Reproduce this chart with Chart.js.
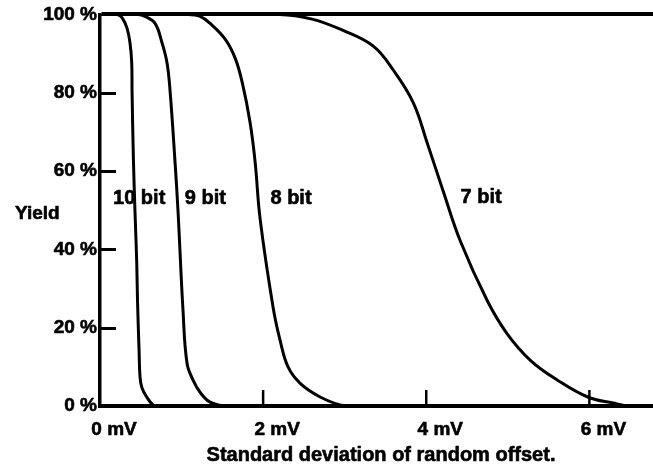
<!DOCTYPE html>
<html>
<head>
<meta charset="utf-8">
<script src="https://cdn.jsdelivr.net/npm/chart.js@4/dist/chart.umd.min.js"></script>
<style>
  html, body { margin: 0; padding: 0; background: #fff; }
  #wrap { width: 653px; height: 468px; position: relative; }
</style>
</head>
<body>
<div id="wrap"><canvas id="c"></canvas></div>
<script>
// ---- data (x: standard deviation of random offset in mV, y: yield in %) ----
const bit10X = [0, 0.209, 0.27, 0.331, 0.368, 0.389, 0.393, 0.409, 0.429, 0.45, 0.46, 0.479, 0.491, 0.515, 0.573, 0.65, 0.71, 6.8];
const bit10Y = [100, 100, 99.2, 96.5, 92.7, 87.6, 80.5, 63.5, 49.6, 37, 26.8, 14.2, 7.3, 4.6, 2.3, 0.25, 0, 0];

const bit9X = [0, 0.466, 0.552, 0.675, 0.761, 0.822, 0.859, 0.92, 0.957, 1.018, 1.067, 1.141, 1.227, 1.35, 1.56, 6.8];
const bit9Y = [100, 100, 99.5, 97.7, 92.7, 87.6, 80.5, 62.3, 49.6, 24.3, 10.9, 6.6, 3.5, 1.0, 0, 0];

const bit8X = [0, 1.08, 1.227, 1.35, 1.534, 1.656, 1.745, 1.84, 1.902, 1.963, 2.123, 2.209, 2.307, 2.454, 2.699, 2.945, 3.07, 6.8];
const bit8Y = [100, 100, 99.5, 97.7, 93.7, 88.9, 82.5, 72.4, 62.3, 47.8, 25.1, 16.7, 9.9, 5.8, 2.3, 0.25, 0, 0];

const bit7X = [0, 2.2, 2.6, 2.98, 3.35, 3.595, 3.84, 4.01, 4.21, 4.42, 4.75, 4.99, 5.28, 5.61, 5.98, 6.29, 6.5, 6.8];
const bit7Y = [100, 100, 98.8, 95.9, 91.9, 85.8, 77.5, 67.3, 54.7, 42, 26.8, 18.5, 11.6, 6.6, 2.3, 0.76, 0, 0];

const seriesNames = ['10 bit', '9 bit', '8 bit', '7 bit'];
const xTickValues = [0, 2, 4, 6];
const yTickValues = [0, 20, 40, 60, 80, 100];
const xUnit = ' mV';
const yUnit = ' %';
const xTitle = 'Standard deviation of random offset.';
const yTitle = 'Yield';

// annotation anchors for series names (in data units: mV, %)
const seriesLabelX = [0.16, 1.04, 2.09, 4.42];
const seriesLabelY = [52.9, 52.9, 52.9, 53.2];

const toPoints = (xs, ys) => xs.map((x, i) => ({ x: x, y: ys[i] }));
const allX = [bit10X, bit9X, bit8X, bit7X];
const allY = [bit10Y, bit9Y, bit8Y, bit7Y];

const FONT = '"Liberation Sans", Arial, Helvetica, sans-serif';
Chart.defaults.font.family = FONT;
Chart.defaults.font.size = 19;
Chart.defaults.font.weight = 'bold';
Chart.defaults.color = '#000';

const decor = {
  id: 'decor',
  afterDatasetsDraw(chart) {
    const { ctx, chartArea: a, scales: { x, y } } = chart;
    ctx.save();
    ctx.strokeStyle = '#000';
    // inner y tick marks
    ctx.lineWidth = 3;
    yTickValues.filter(v => v > 0 && v < 100).forEach(v => {
      const py = Math.round(y.getPixelForValue(v)) + 0.5;
      ctx.beginPath(); ctx.moveTo(a.left, py); ctx.lineTo(a.left + 16, py); ctx.stroke();
    });
    // inner x tick marks
    ctx.lineWidth = 2.5;
    xTickValues.filter(v => v > 0).forEach(v => {
      const px = x.getPixelForValue(v);
      ctx.beginPath(); ctx.moveTo(px, a.bottom); ctx.lineTo(px, a.bottom - 16); ctx.stroke();
    });
    // texts
    ctx.fillStyle = '#000';
    ctx.lineWidth = 0.6;
    ctx.lineJoin = 'round';
    const txt = (s, px, py) => { ctx.fillText(s, px, py); ctx.strokeText(s, px, py); };
    ctx.font = 'bold 20px ' + FONT;
    ctx.textAlign = 'left';
    ctx.textBaseline = 'middle';
    seriesNames.forEach((n, i) => {
      txt(n, x.getPixelForValue(seriesLabelX[i]), y.getPixelForValue(seriesLabelY[i]));
    });
    ctx.font = 'bold 19px ' + FONT;
    txt(yTitle, a.left - 85, y.getPixelForValue(49));
    ctx.font = 'bold 20px ' + FONT;
    ctx.textAlign = 'center';
    txt(xTitle, a.left + 281, a.bottom + 49);
    ctx.restore();
  }
};

new Chart(document.getElementById('c'), {
  type: 'line',
  data: {
    datasets: seriesNames.map((n, i) => ({
      label: n,
      data: toPoints(allX[i], allY[i]),
      borderColor: '#000',
      borderWidth: 3,
      pointRadius: 0,
      fill: false,
      tension: 0.4
    }))
  },
  options: {
    responsive: true,
    maintainAspectRatio: false,
    animation: false,
    devicePixelRatio: 1,
    layout: { padding: { top: 11, right: 0, left: 0, bottom: 0 } },
    plugins: { legend: { display: false }, tooltip: { enabled: false } },
    scales: {
      x: {
        type: 'linear',
        min: 0,
        max: 6.78,
        afterFit: s => { s.height = 62; },
        grid: { display: true, color: 'transparent', drawTicks: false },
        border: { display: true, color: '#000', width: 4 },
        ticks: {
          stepSize: 2,
          includeBounds: false,
          padding: 12,
          labelOffset: 14,
          maxRotation: 0,
          textStrokeColor: '#000',
          textStrokeWidth: 0.6,
          callback: v => v + xUnit
        }
      },
      y: {
        min: 0,
        max: 100,
        afterFit: s => { s.width = 100; },
        grid: {
          drawTicks: false,
          lineWidth: 4,
          color: c => (c.tick && c.tick.value === 100 ? '#000' : 'transparent')
        },
        border: { display: true, color: '#000', width: 3.5 },
        ticks: {
          stepSize: 20,
          padding: 3,
          textStrokeColor: '#000',
          textStrokeWidth: 0.6,
          callback: v => v + yUnit
        }
      }
    }
  },
  plugins: [decor]
});
</script>
</body>
</html>
